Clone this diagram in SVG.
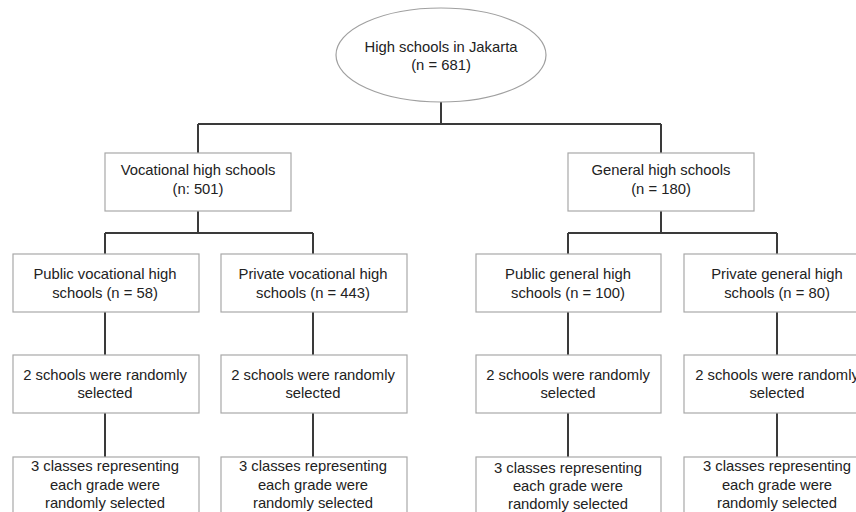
<svg xmlns="http://www.w3.org/2000/svg" width="856" height="512" viewBox="0 0 856 512">
<style>
.box{fill:#fff;stroke:#a8a8a8;stroke-width:1.2}
.ell{fill:#fff;stroke:#a0a0a0;stroke-width:1.2}
.t{font-family:"Liberation Sans",Arial,sans-serif;font-size:14.8px;fill:#222;text-anchor:middle}
.c{fill:none;stroke:#3a3a3a;stroke-width:2}
</style>
<rect width="856" height="512" fill="#fff"/>
<g id="connectors">
<path class="c" d="M441 102V124M198 124H661M198 124V153M661 124V153"/>
<path class="c" d="M198 211V233M105 233H313M105 233V254M313 233V254"/>
<path class="c" d="M661 211V233M568 233H777M568 233V254M777 233V254"/>
<path class="c" d="M105 312V355M313 312V355M568 312V355M777 312V355"/>
<path class="c" d="M105 413V457M313 413V457M568 413V457M777 413V457"/>
</g>
<g id="root">
<ellipse class="ell" cx="441" cy="55" rx="105" ry="47"/>
<text class="t" x="441" y="52">High schools in Jakarta</text>
<text class="t" x="441" y="70">(n = 681)</text>
</g>
<g id="vocational">
<rect class="box" x="105" y="153" width="186" height="58"/>
<text class="t" x="198" y="175">Vocational high schools</text>
<text class="t" x="198" y="194">(n: 501)</text>
</g>
<g id="general">
<rect class="box" x="568" y="153" width="186" height="58"/>
<text class="t" x="661" y="175">General high schools</text>
<text class="t" x="661" y="194">(n = 180)</text>
</g>
<g id="public-vocational">
<rect class="box" x="13" y="254" width="186" height="58"/>
<text class="t" x="105" y="279">Public vocational high</text>
<text class="t" x="105" y="298">schools (n = 58)</text>
</g>
<g id="private-vocational">
<rect class="box" x="221" y="254" width="186" height="58"/>
<text class="t" x="313" y="279">Private vocational high</text>
<text class="t" x="313" y="298">schools (n = 443)</text>
</g>
<g id="public-general">
<rect class="box" x="476" y="254" width="185" height="58"/>
<text class="t" x="568" y="279">Public general high</text>
<text class="t" x="568" y="298">schools (n = 100)</text>
</g>
<g id="private-general">
<rect class="box" x="684" y="254" width="186" height="58"/>
<text class="t" x="777" y="279">Private general high</text>
<text class="t" x="777" y="298">schools (n = 80)</text>
</g>
<g id="select-1">
<rect class="box" x="13" y="355" width="186" height="58"/>
<text class="t" x="105" y="380">2 schools were randomly</text>
<text class="t" x="105" y="398">selected</text>
</g>
<g id="select-2">
<rect class="box" x="221" y="355" width="186" height="58"/>
<text class="t" x="313" y="380">2 schools were randomly</text>
<text class="t" x="313" y="398">selected</text>
</g>
<g id="select-3">
<rect class="box" x="476" y="355" width="185" height="58"/>
<text class="t" x="568" y="380">2 schools were randomly</text>
<text class="t" x="568" y="398">selected</text>
</g>
<g id="select-4">
<rect class="box" x="684" y="355" width="186" height="58"/>
<text class="t" x="777" y="380">2 schools were randomly</text>
<text class="t" x="777" y="398">selected</text>
</g>
<g id="classes-1">
<rect class="box" x="13" y="457" width="186" height="70"/>
<text class="t" x="105" y="471">3 classes representing</text>
<text class="t" x="105" y="490">each grade were</text>
<text class="t" x="105" y="508">randomly selected</text>
</g>
<g id="classes-2">
<rect class="box" x="221" y="457" width="186" height="70"/>
<text class="t" x="313" y="471">3 classes representing</text>
<text class="t" x="313" y="490">each grade were</text>
<text class="t" x="313" y="508">randomly selected</text>
</g>
<g id="classes-3">
<rect class="box" x="476" y="457" width="185" height="70"/>
<text class="t" x="568" y="473">3 classes representing</text>
<text class="t" x="568" y="491">each grade were</text>
<text class="t" x="568" y="509">randomly selected</text>
</g>
<g id="classes-4">
<rect class="box" x="684" y="457" width="186" height="70"/>
<text class="t" x="777" y="471">3 classes representing</text>
<text class="t" x="777" y="490">each grade were</text>
<text class="t" x="777" y="508">randomly selected</text>
</g>
</svg>
